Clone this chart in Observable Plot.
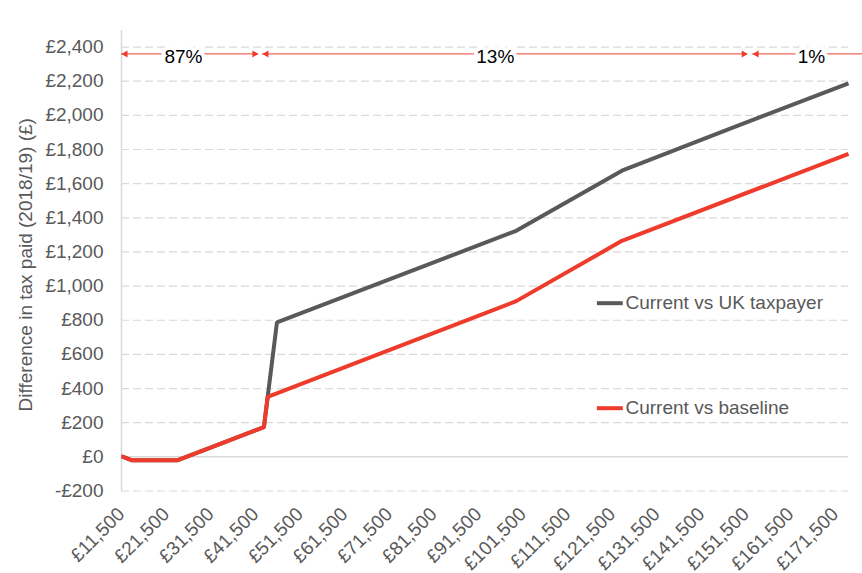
<!DOCTYPE html>
<html>
<head>
<meta charset="utf-8">
<script src="https://cdn.jsdelivr.net/npm/d3@7"></script>
<script src="https://cdn.jsdelivr.net/npm/@observablehq/plot@0.6"></script>
<style>
  html, body { margin: 0; padding: 0; background: #fff; }
  #chart { width: 862px; height: 573px; }
</style>
</head>
<body>
<div id="chart"></div>
<script>
// ---- Data ----
const seriesNames = ["Current vs UK taxpayer", "Current vs baseline"];
const seriesColors = ["#595959", "#ef3b2c"];

// Current vs UK taxpayer: income breakpoints (£) and difference in tax (£)
const ukIncome = [11500, 11850, 13850, 24000, 43430, 46350, 100000, 123700, 150000, 174500];
const ukDiff   = [0, 0, -20, -20, 174, 787, 1324, 1676, 1943, 2188];

// Current vs baseline
const baseIncome = [11500, 11850, 13850, 24000, 43430, 44273, 100000, 123700, 174500];
const baseDiff   = [0, 0, -20, -20, 174, 351, 912, 1265, 1775];

// Axis ticks
const xTicks = [11500, 21500, 31500, 41500, 51500, 61500, 71500, 81500, 91500, 101500,
                111500, 121500, 131500, 141500, 151500, 161500, 171500];
const yTicks = [-200, 0, 200, 400, 600, 800, 1000, 1200, 1400, 1600, 1800, 2000, 2200, 2400];

// Top annotation: share of taxpayers in each income band
const bandLabels = ["87%", "13%", "1%"];
const bandStart  = [11500, 43100, 153000];
const bandEnd    = [42200, 151900, 178000];
const bandLabelX = [25400, 95300, 166200];

// ---- Build tables ----
const lineRows = [
  ...ukIncome.map((x, i) => ({x, y: ukDiff[i], s: seriesNames[0]})),
  ...baseIncome.map((x, i) => ({x, y: baseDiff[i], s: seriesNames[1]}))
];
const bands = bandLabels.map((label, i) => ({label, x1: bandStart[i], x2: bandEnd[i], xm: bandLabelX[i]}));
const annY = 2360;
const legendRows = [
  {name: seriesNames[0], color: seriesColors[0], y: 900},
  {name: seriesNames[1], color: seriesColors[1], y: 285}
];
const money = d => (d < 0 ? "-£" : "£") + d3.format(",")(Math.abs(d));
const FS = 19;

const chart = Plot.plot({
  width: 862,
  height: 573,
  marginLeft: 121,
  marginRight: 14,
  marginTop: 30,
  marginBottom: 82.5,
  style: {fontFamily: "'Liberation Sans', Arial, sans-serif", fontSize: FS + "px", color: "#595959", background: "#fff", overflow: "visible"},
  x: {domain: [11500, 174500]},
  y: {domain: [-200, 2497]},
  color: {domain: seriesNames, range: seriesColors},
  marks: [
    // gridlines
    Plot.ruleY(yTicks.filter(d => d !== 0), {stroke: "#d9d9d9", strokeWidth: 1.2, strokeDasharray: "8,4"}),
    Plot.ruleY([0], {stroke: "#d9d9d9", strokeWidth: 1.5}),
    Plot.ruleX([11500], {stroke: "#d9d9d9", strokeWidth: 1.5}),
    // axes
    Plot.axisY({ticks: yTicks, tickSize: 0, tickPadding: 18, tickFormat: money, label: null, fill: "#595959", fontSize: FS}),
    Plot.axisX({ticks: xTicks, tickSize: 0, tickPadding: 20, tickRotate: -45, tickFormat: money, label: null, fill: "#595959", fontSize: FS}),
    Plot.text(["Difference in tax paid (2018/19) (£)"], {frameAnchor: "left", textAnchor: "middle", dx: -96, dy: 4, rotate: -90, fill: "#595959", fontSize: FS}),
    // series lines
    Plot.line(lineRows, {x: "x", y: "y", z: "s", stroke: "s", strokeWidth: 4, strokeLinejoin: "miter", strokeLinecap: "butt"}),
    // in-plot legend
    Plot.ruleY(legendRows, {x1: 118200, x2: 124000, y: "y", stroke: "color", strokeWidth: 4}),
    Plot.text(legendRows, {x: 124500, y: "y", text: "name", textAnchor: "start", fill: "#595959", fontSize: FS}),
    // top annotation arrows
    Plot.ruleY(bands, {x1: "x1", x2: "x2", y: annY, stroke: "#f26456", strokeWidth: 1.2, clip: false}),
    Plot.dot(bands, {x: "x1", y: annY, symbol: "triangle", r: 2.6, rotate: -90, dx: 4, fill: "#ef3b2c", stroke: null}),
    Plot.dot(bands.slice(0, 2), {x: "x2", y: annY, symbol: "triangle", r: 2.6, rotate: 90, dx: -4, fill: "#ef3b2c", stroke: null}),
    Plot.text(bands, {x: "xm", y: annY, text: "label", fill: "#000", stroke: "#fff", strokeWidth: 8, fontSize: FS, dy: 3})
  ]
});
document.getElementById("chart").appendChild(chart);
</script>
</body>
</html>
